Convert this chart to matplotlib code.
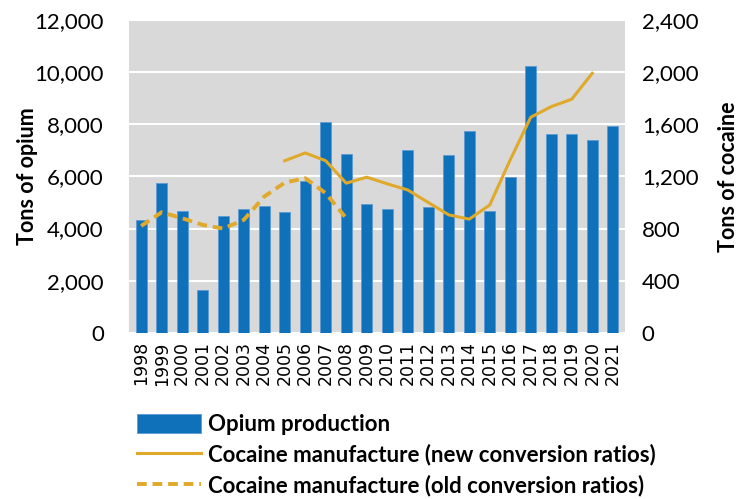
import matplotlib
matplotlib.use("Agg")
import matplotlib.pyplot as plt
import numpy as np

years = list(range(1998, 2022))
opium = [4346, 5764, 4664, 1630, 4491, 4765, 4850, 4620, 5820, 8079, 6841, 4950,
         4736, 6995, 4830, 6803, 7740, 4660, 5960, 10250, 7610, 7610, 7410, 7930]

# cocaine, new ratios 2005-2020
coca_new_years = list(range(2005, 2021))
coca_new = [1320, 1380, 1320, 1148, 1194, 1143, 1096, 1000, 905, 872, 981,
            1327, 1654, 1735, 1792, 1991]

# cocaine, old ratios 1998-2008
coca_old_years = list(range(1998, 2009))
coca_old = [820, 925, 879, 828, 800, 866, 1045, 1152, 1186, 1071, 879]

plt.rcParams['font.family'] = ['Lato', 'DejaVu Sans']

fig = plt.figure(figsize=(7.45, 4.99), dpi=100)
ax = fig.add_axes([0.173, 0.333, 0.666, 0.627])
ax.set_facecolor('#D9D9D9')

x = np.arange(len(years))
ax.bar(x, opium, width=0.55, color='#0F71BA', edgecolor='#5B9BD5', linewidth=0.6,
       zorder=3, label='Opium production')
ax.set_xlim(-0.6, len(years) - 0.4)
ax.set_ylim(0, 12000)
ax.set_yticks(range(0, 12001, 2000))
ax.set_yticklabels(['{:,}'.format(v) for v in range(0, 12001, 2000)], fontsize=16)
ax.yaxis.grid(True, color='white', linewidth=1.5, zorder=0)
ax.set_axisbelow(True)
ax.set_xticks(x)
ax.set_xticklabels([str(y) for y in years], rotation=90, fontsize=12.5,
                   family='DejaVu Sans')
ax.tick_params(axis='x', length=0, pad=6)
ax.tick_params(axis='y', length=0, pad=18)
for s in ax.spines.values():
    s.set_visible(False)
ax.set_ylabel('Tons of opium', fontsize=15.5, fontweight='bold')
ax.yaxis.set_label_coords(-0.183, 0.5)

ax2 = ax.twinx()
ax2.set_ylim(0, 2400)
ax2.set_yticks(range(0, 2401, 400))
ax2.set_yticklabels(['{:,}'.format(v) for v in range(0, 2401, 400)], fontsize=16)
ax2.tick_params(length=0, pad=12)
for s in ax2.spines.values():
    s.set_visible(False)
ax2.set_ylabel('Tons of cocaine', fontsize=15.5, fontweight='bold')
ax2.yaxis.set_label_coords(1.187, 0.5)

xn = [years.index(y) for y in coca_new_years]
xo = [years.index(y) for y in coca_old_years]
ax2.plot(xn, coca_new, color='#E0A92A', linewidth=2.2, zorder=4,
         label='Cocaine manufacture (new conversion ratios)')
ax2.plot(xo, coca_old, color='#E0A92A', linewidth=2.8, linestyle=(0, (2.5, 1.5)),
         zorder=4, label='Cocaine manufacture (old conversion ratios)')

h1, l1 = ax.get_legend_handles_labels()
h2, l2 = ax2.get_legend_handles_labels()
fig.legend(h1 + h2, l1 + l2, loc='upper left', bbox_to_anchor=(0.172, 0.188),
           frameon=False, prop={'size': 16, 'weight': 'bold'},
           handlelength=2.9, handleheight=0.9, labelspacing=0.4, handletextpad=0.3,
           borderaxespad=0)

fig.savefig('out.png', dpi=100)
